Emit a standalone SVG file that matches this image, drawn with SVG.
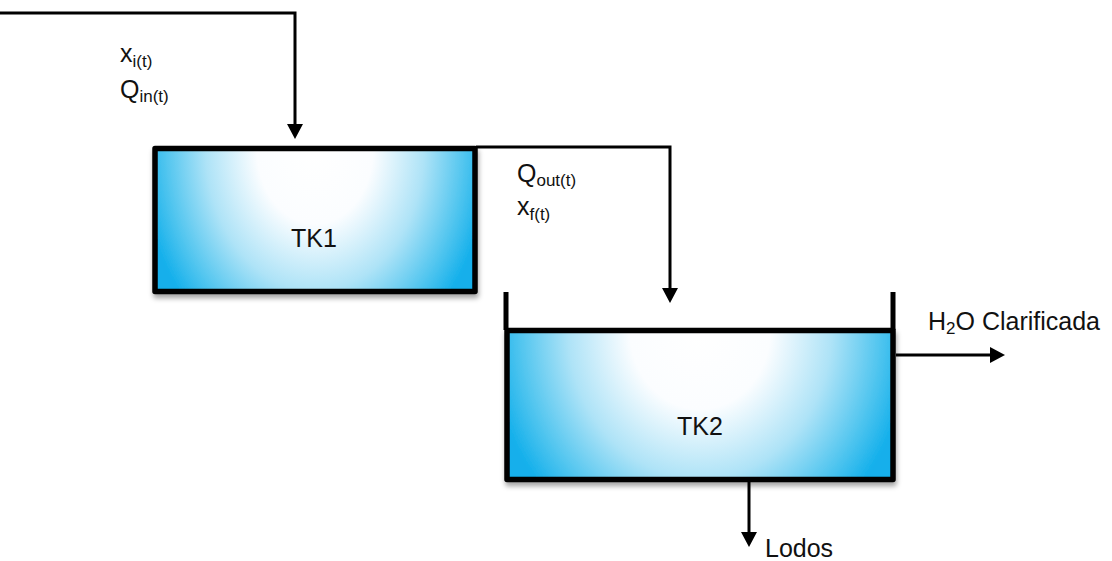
<svg xmlns="http://www.w3.org/2000/svg" width="1112" height="561" viewBox="0 0 1112 561">
<style>
text{font-family:"Liberation Sans",Arial,sans-serif;font-size:25px;fill:#111}
.sub{font-size:17px}
.tank{stroke:#000;stroke-width:5.5;stroke-linejoin:round}
.conn{fill:none;stroke:#000;stroke-width:3}
.wall{stroke:#000;stroke-width:5;fill:none}
</style>
<defs>
<radialGradient id="g" cx="0.5" cy="0" r="0.5" gradientTransform="translate(0.5,0) scale(1.1,3.2) translate(-0.5,0)">
<stop offset="0" stop-color="#ffffff"/>
<stop offset="0.33" stop-color="#fbfdff"/>
<stop offset="0.62" stop-color="#aee3f7"/>
<stop offset="0.85" stop-color="#50c5ef"/>
<stop offset="1" stop-color="#12afeb"/>
</radialGradient>
<filter id="sh" x="-10%" y="-10%" width="120%" height="130%">
<feDropShadow dx="1" dy="4" stdDeviation="2.5" flood-color="#000" flood-opacity="0.35"/>
</filter>
<marker id="ah" viewBox="0 0 15 16" markerWidth="15" markerHeight="16" markerUnits="userSpaceOnUse" refX="3" refY="8" orient="auto">
<path d="M0,0 L15,8 L0,16 z" fill="#000"/>
</marker>
</defs>
<g id="tk1">
<rect class="tank" x="155" y="148.5" width="320" height="143" fill="url(#g)" filter="url(#sh)"/>
<text x="314" y="247" text-anchor="middle">TK1</text>
</g>
<g id="tk2">
<rect class="tank" x="507" y="330.5" width="386" height="149" fill="url(#g)" filter="url(#sh)"/>
<path class="wall" d="M506,292 V330 M893,292 V330"/>
<text x="700" y="435" text-anchor="middle">TK2</text>
</g>
<g id="connectors">
<path class="conn" d="M0,13 H295 V127" marker-end="url(#ah)"/>
<path class="conn" d="M476,147 H670 V291" marker-end="url(#ah)"/>
<path class="conn" d="M896,355 H993" marker-end="url(#ah)"/>
<path class="conn" d="M749,482 V535" marker-end="url(#ah)"/>
</g>
<g id="labels">
<text x="120" y="62">x<tspan class="sub" dy="5">i(t)</tspan></text>
<text x="120" y="98">Q<tspan class="sub" dy="4">in(t)</tspan></text>
<text x="517" y="182">Q<tspan class="sub" dy="4">out(t)</tspan></text>
<text x="517" y="215">x<tspan class="sub" dy="5">f(t)</tspan></text>
<text x="928" y="330">H<tspan class="sub" dy="4">2</tspan><tspan dy="-4">O Clarificada</tspan></text>
<text x="765" y="557">Lodos</text>
</g>
</svg>
